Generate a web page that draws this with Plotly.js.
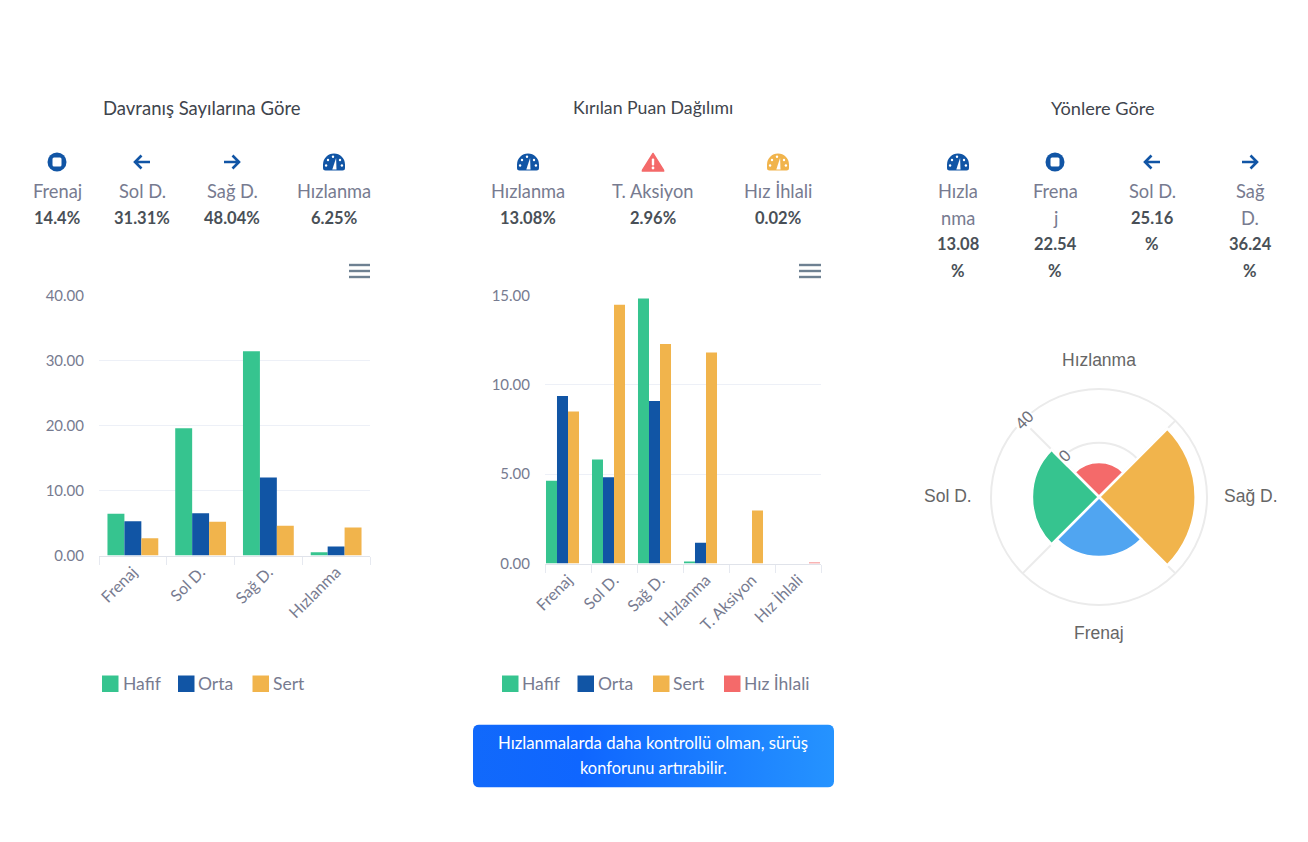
<!DOCTYPE html>
<html><head><meta charset="utf-8">
<script src="https://cdn.plot.ly/plotly-3.0.1.min.js"></script>
<style>html,body{margin:0;padding:0;background:#fff}#c{width:1308px;height:842px}</style>
</head><body><div id="c"></div>
<script>
const W = 1308, H = 842;
const FONT = 'Lato, sans-serif';
const TITLE_COL = '#3f454d', LABEL_COL = '#777b90', VALUE_COL = '#495057';
const GREEN = '#36c48f', BLUE = '#1155a5', ORANGE = '#f1b44c', RED = '#f46a6a', SKY = '#50a5f1';

// Chart 1
const behaviourCats = ['Frenaj', 'Sol D.', 'Sağ D.', 'Hızlanma'];
const behaviourHafif = [6.41, 19.59, 31.44, 0.51];
const behaviourOrta = [5.28, 6.51, 12.0, 1.38];
const behaviourSert = [2.67, 5.18, 4.56, 4.31];
// Chart 2
const pointsCats = ['Frenaj', 'Sol D.', 'Sağ D.', 'Hızlanma', 'T. Aksiyon', 'Hız İhlali'];
const pointsHafif = [4.63, 5.82, 14.83, 0.07, 0, 0];
const pointsOrta = [9.37, 4.83, 9.10, 1.16, 0, 0];
const pointsSert = [8.51, 14.48, 12.28, 11.81, 2.97, 0];
const pointsIhlal = [0, 0, 0, 0, 0, 0.02];
// Chart 3
const roseCats = ['Hızlanma', 'Sağ D.', 'Frenaj', 'Sol D.'];
const roseBearing = [0, 90, 180, 270];
const roseValues = [13.08, 36.24, 22.54, 25.16];
const roseColors = [RED, ORANGE, SKY, GREEN];
const roseSpokes = [45, 135, 225, 315];
const roseRings = [20.3, 40.5];

const seriesNames = ['Hafif', 'Orta', 'Sert', 'Hız İhlali'];
const seriesColors = [GREEN, BLUE, ORANGE, RED];

const statsA = {title:'Davranış Sayılarına Göre', cx:202, titleSize:18.5,
  labels:['Frenaj','Sol D.','Sağ D.','Hızlanma'], values:['14.4%','31.31%','48.04%','6.25%'],
  icons:['stop','left','right','gauge'], xs:[57,142,232,334]};
const statsB = {title:'Kırılan Puan Dağılımı', cx:653, titleSize:17.7,
  labels:['Hızlanma','T. Aksiyon','Hız İhlali'], values:['13.08%','2.96%','0.02%'],
  icons:['gauge','warn','gaugeO'], xs:[528,653,778]};
const statsC = {title:'Yönlere Göre', cx:1103, titleSize:18.2,
  labels:[['Hızla','nma'],['Frena','j'],['Sol D.'],['Sağ','D.']],
  values:[['13.08','%'],['22.54','%'],['25.16','%'],['36.24','%']],
  icons:['gauge','stop','left','right'], xs:[958,1055,1152,1250]};

const px = x => x / W, py = y => 1 - y / H;

function svgUri(inner, w, h) {
  return 'data:image/svg+xml;base64,' + btoa('<svg xmlns="http://www.w3.org/2000/svg" width="'+w+'" height="'+h+'" viewBox="0 0 '+w+' '+h+'">'+inner+'</svg>');
}
function gauge(c) {
  return '<path d="M0.5 11.5 A11 11 0 0 1 22.5 11.5 V15 Q22.5 17.5 20 17.5 H3 Q0.5 17.5 0.5 15Z" fill="'+c+'"/>'
   + '<path d="M9.8 16.5 L13.6 5 L14 16.5Z" fill="#fff"/>'
   + '<circle cx="3.6" cy="12.5" r="1.2" fill="#fff"/><circle cx="5.5" cy="7" r="1.2" fill="#fff"/>'
   + '<circle cx="10.5" cy="3.8" r="1.2" fill="#fff"/><circle cx="17.5" cy="7" r="1.2" fill="#fff"/><circle cx="19.4" cy="12.5" r="1.2" fill="#fff"/>';
}
const ICONS = {
  stop: [20,20,'<circle cx="10" cy="10" r="9.5" fill="'+BLUE+'"/><rect x="5.5" y="5.5" width="9" height="9" rx="1.5" fill="#fff"/>'],
  left: [20,20,'<path d="M18 10H3M9.5 3.5L3 10l6.5 6.5" fill="none" stroke="'+BLUE+'" stroke-width="2.6"/>'],
  right:[20,20,'<path d="M2 10H17M10.5 3.5L17 10l-6.5 6.5" fill="none" stroke="'+BLUE+'" stroke-width="2.6"/>'],
  gauge:[23,18,gauge(BLUE)],
  gaugeO:[23,18,gauge(ORANGE)],
  warn: [23,20,'<path d="M11.5 1.5 L22.5 19 H0.5Z" fill="'+RED+'" stroke="'+RED+'" stroke-linejoin="round" stroke-width="1.5"/><rect x="10.3" y="6.5" width="2.4" height="7" rx="1" fill="#fff"/><circle cx="11.5" cy="16" r="1.4" fill="#fff"/>']
};

const annotations = [], images = [], shapes = [];
function txt(x, y, text, size, color, opts) {
  annotations.push(Object.assign({x:px(x), y:py(y), xref:'paper', yref:'paper', text:text, showarrow:false,
    xanchor:'center', yanchor:'middle', font:{family:FONT, size:size, color:color}}, opts||{}));
}
function icon(name, x, y) {
  const d = ICONS[name];
  images.push({source:svgUri(d[2], d[0], d[1]), xref:'paper', yref:'paper', x:px(x - d[0]/2), y:py(y - d[1]/2),
    sizex:d[0]/W, sizey:d[1]/H, xanchor:'left', yanchor:'top', sizing:'stretch', layer:'above'});
}
function header(s) {
  txt(s.cx, 108, s.title, s.titleSize, TITLE_COL);
  s.xs.forEach((x, i) => {
    icon(s.icons[i], x, 162);
    const lab = [].concat(s.labels[i]), val = [].concat(s.values[i]);
    let y = 191;
    lab.forEach(t => { txt(x, y, t, 18.3, LABEL_COL); y += 26.5; });
    val.forEach(t => { txt(x, y, t, 16.5, VALUE_COL, {font:{family:FONT, size:16.5, color:VALUE_COL, weight:700}}); y += 26.5; });
  });
}
[statsA, statsB, statsC].forEach(header);

function burger(x0, x1) {
  [265, 271, 277].forEach(y => shapes.push({type:'line', xref:'paper', yref:'paper', x0:px(x0), x1:px(x1), y0:py(y), y1:py(y),
    line:{color:'#6e8192', width:2.4}}));
}
burger(349, 370); burger(799, 821);

function legend(names, colors, swatchX, textX) {
  names.forEach((n, i) => {
    shapes.push({type:'rect', xref:'paper', yref:'paper', x0:px(swatchX[i]), x1:px(swatchX[i]+16.5), y0:py(675.5), y1:py(692),
      fillcolor:colors[i], line:{width:0}});
    txt(textX[i], 683, n, 17.5, LABEL_COL, {xanchor:'left', xshift:-2});
  });
}
legend(seriesNames.slice(0,3), seriesColors, [102,178,252.5], [123,198,273]);
legend(seriesNames, seriesColors, [502,577.5,653,724], [522,598,673,744]);

// Advice banner
images.push({source:svgUri('<defs><linearGradient id="g" x1="0" x2="1" y1="0" y2="0"><stop offset="0" stop-color="#1169fb"/><stop offset="0.3" stop-color="#0f66ff"/><stop offset="1" stop-color="#2593ff"/></linearGradient></defs><rect width="361" height="63" rx="6" fill="url(#g)"/>',361,63),
  xref:'paper', yref:'paper', x:px(473), y:py(724.5), sizex:361/W, sizey:63/H, xanchor:'left', yanchor:'top', sizing:'stretch', layer:'below'});
txt(653, 742.5, 'Hızlanmalarda daha kontrollü olman, sürüş', 16.8, '#ffffff');
txt(653, 767.5, 'konforunu artırabilir.', 16.4, '#ffffff');

// Rose chart text
const roseCenter = [1099, 497];
const roseLabelXY = [[1099,360],[1251,496],[1099,633],[948,496]];
roseCats.forEach((c, i) => txt(roseLabelXY[i][0], roseLabelXY[i][1], c, 17.5, '#666666', {font:{family:'Liberation Sans, sans-serif', size:17.5, color:'#666666'}}));
const ringLabels = ['0', '40'];
const ringLabelXY = [[1064,456],[1024,420]];
ringLabels.forEach((t, i) => txt(ringLabelXY[i][0], ringLabelXY[i][1], t, 16.5, '#6e7079',
  {textangle:-45, bgcolor:'#ffffff', font:{family:'Liberation Sans, sans-serif', size:16.5, color:'#6e7079'}}));

const traces = [];
[behaviourHafif, behaviourOrta, behaviourSert].forEach((v, i) => traces.push({
  type:'bar', x:behaviourCats, y:v, name:seriesNames[i], xaxis:'x', yaxis:'y', width:0.25, offset:-0.375 + 0.25*i,
  marker:{color:seriesColors[i]}, showlegend:false}));
[pointsHafif, pointsOrta, pointsSert, pointsIhlal].forEach((v, i) => traces.push({
  type:'bar', x:pointsCats, y:v, name:seriesNames[i], xaxis:'x2', yaxis:'y2',
  marker:{color:seriesColors[i]}, showlegend:false}));
traces.push({type:'barpolar', subplot:'polar', r:roseValues, theta:roseBearing, width:roseBearing.map(()=>90), text:roseCats,
  marker:{color:roseColors, line:{color:'#ffffff', width:2.5}}, showlegend:false});

const xAxisBase = {type:'category', tickson:'boundaries', ticks:'outside', ticklen:8, tickcolor:'#e6e9f0', tickwidth:1,
  showline:true, linecolor:'#e0e3ea', linewidth:1, showgrid:false, tickangle:-45, automargin:false,
  tickfont:{family:FONT, size:16, color:LABEL_COL}, zeroline:false};
const yAxisBase = {showgrid:true, gridcolor:'#edf0f7', gridwidth:1, zeroline:false, showline:false, ticks:'', tickformat:'.2f',
  ticklabelstandoff:14, automargin:false, tickfont:{family:FONT, size:15, color:LABEL_COL}};

const layout = {
  width:W, height:H, margin:{l:0,r:0,t:0,b:0}, paper_bgcolor:'#ffffff', plot_bgcolor:'#ffffff',
  barmode:'group', bargap:0.043, bargroupgap:0, showlegend:false,
  xaxis:Object.assign({}, xAxisBase, {domain:[px(99), px(370)], anchor:'y', categoryorder:'array', categoryarray:behaviourCats}),
  yaxis:Object.assign({}, yAxisBase, {domain:[py(555.5), py(295.5)], anchor:'x', range:[0,40], dtick:10}),
  xaxis2:Object.assign({}, xAxisBase, {domain:[px(545), px(821)], anchor:'y2', categoryorder:'array', categoryarray:pointsCats}),
  yaxis2:Object.assign({}, yAxisBase, {domain:[py(563.5), py(295.5)], anchor:'x2', range:[0,15], dtick:5}),
  polar:{
    domain:{x:[px(roseCenter[0]-108), px(roseCenter[0]+108)], y:[py(roseCenter[1]+108), py(roseCenter[1]-108)]},
    bgcolor:'rgba(0,0,0,0)',
    radialaxis:{range:[0,40.5], angle:135, tickmode:'array', tickvals:roseRings, showticklabels:false, ticks:'', showline:false,
      gridcolor:'#ebebeb', gridwidth:1.5, layer:'below traces'},
    angularaxis:{rotation:90, direction:'clockwise', tickmode:'array', tickvals:roseSpokes, showticklabels:false, ticks:'',
      gridcolor:'#ebebeb', gridwidth:1.5, showline:true, linecolor:'#ebebeb', linewidth:2, layer:'below traces'}
  },
  annotations:annotations, images:images, shapes:shapes
};
Plotly.newPlot('c', traces, layout, {displayModeBar:false, responsive:false, staticPlot:false});
</script></body></html>
